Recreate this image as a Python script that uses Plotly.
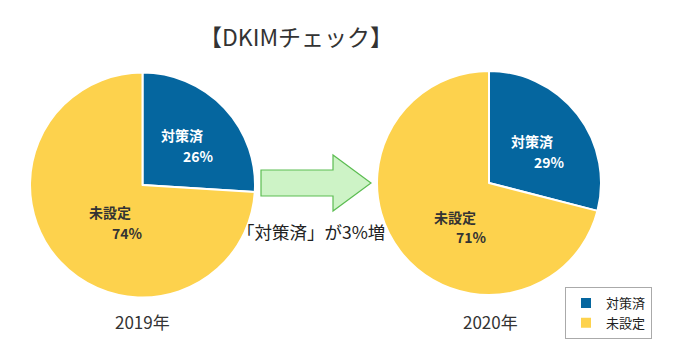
import plotly.graph_objects as go

W, H = 680, 352
labels = ["対策済", "未設定"]
values_2019 = [26, 74]
values_2020 = [29, 71]
years = ["2019年", "2020年"]
colors = ["#05669F", "#FDD24D"]
title_text = "【DKIMチェック】"
arrow_text = "「対策済」が3%増"

def px(x):
    return x / W

def py(y):
    return 1 - y / H

fig = go.Figure()
domains = [
    dict(x=[px(30), px(255)], y=[py(298), py(72)]),
    dict(x=[px(377), px(601)], y=[py(296), py(70)]),
]
for i, (vals, dom) in enumerate(zip([values_2019, values_2020], domains)):
    fig.add_trace(go.Pie(
        labels=labels, values=vals, domain=dom, sort=False,
        direction="clockwise", rotation=0, textinfo="none",
        hoverinfo="label+percent",
        marker=dict(colors=colors, line=dict(color="white", width=2)),
        showlegend=(i == 1),
    ))

font = "Noto Sans CJK JP, sans-serif"
ann = []

def add_text(x, y, text, size, color):
    ann.append(dict(x=px(x), y=py(y), xref="paper", yref="paper", text=text,
                    xanchor="center", yanchor="middle", showarrow=False,
                    font=dict(size=size, color=color, family=font)))

# slice labels
label_pos = [
    [((182, 135), (198, 156)), ((110, 212), (127, 233))],
    [((532, 141), (549, 162)), ((455, 217), (471, 237))],
]
for vals, pos in zip([values_2019, values_2020], label_pos):
    for j, (lab, v) in enumerate(zip(labels, vals)):
        c = "white" if j == 0 else "#333333"
        (lx, ly), (vx, vy) = pos[j]
        add_text(lx, ly, f"<b>{lab}</b>", 14, c)
        add_text(vx, vy, f"<b>{v}%</b>", 14, c)
# year labels
for yr, xc in zip(years, [142, 490]):
    add_text(xc, 321, yr, 17, "#333333")
add_text(296, 36, title_text, 23, "#333333")
add_text(311, 231, arrow_text, 17.5, "#222222")

# arrow shape
pts = [(261, 170), (333, 170), (333, 155), (371, 183), (333, 211), (333, 196), (261, 196)]
path = "M " + " L ".join(f"{px(x)},{py(y)}" for x, y in pts) + " Z"

fig.update_layout(
    width=W, height=H, margin=dict(l=0, r=0, t=0, b=0),
    paper_bgcolor="white", plot_bgcolor="white",
    annotations=ann,
    shapes=[dict(type="path", path=path, xref="paper", yref="paper",
                 fillcolor="#CDF3C6", line=dict(color="#5CBD52", width=1.2))],
    legend=dict(x=px(565), y=py(287), xanchor="left", yanchor="top",
                bordercolor="#AAAAAA", borderwidth=1, bgcolor="white",
                font=dict(size=13, color="#222222", family=font),
                tracegroupgap=0, itemwidth=30),
)
fig.write_html("out.html")
